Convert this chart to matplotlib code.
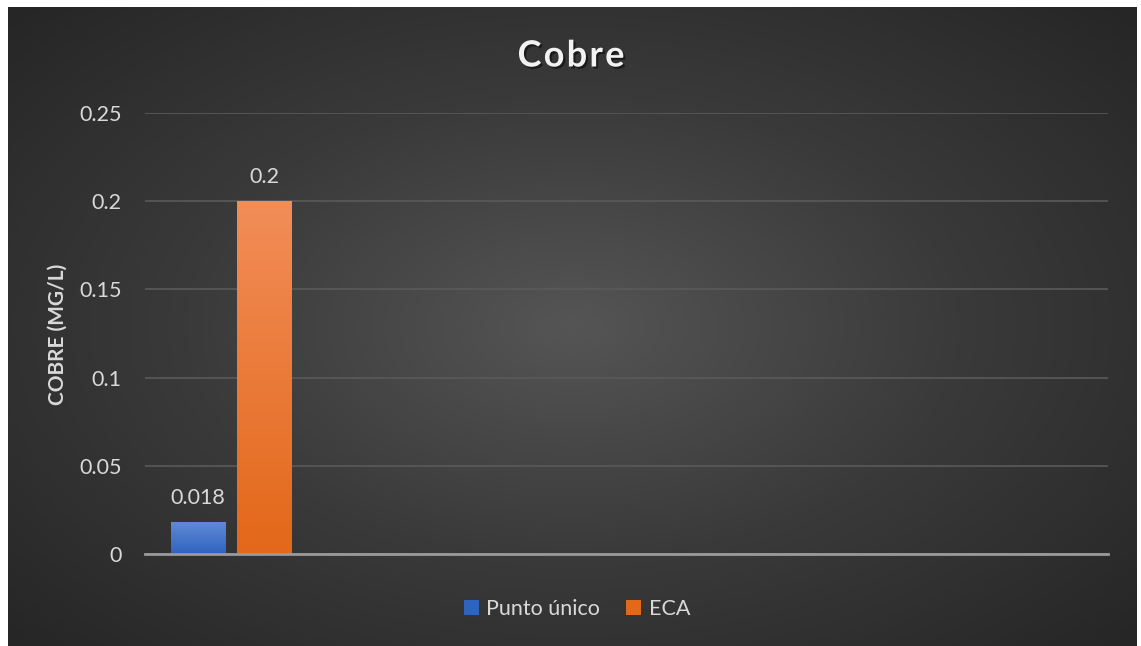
import numpy as np
import matplotlib
matplotlib.use("Agg")
import matplotlib.pyplot as plt
import matplotlib.patheffects as pe
from matplotlib.colors import LinearSegmentedColormap
from matplotlib.patches import Patch

# data
series = ["Punto único", "ECA"]
values = [0.018, 0.2]
y_ticks = [0, 0.05, 0.1, 0.15, 0.2, 0.25]
y_tick_labels = ["0", "0.05", "0.1", "0.15", "0.2", "0.25"]
title = "Cobre"
y_label = "COBRE (MG/L)"

# top / bottom colours for the bar gradients
bar_colors = [("#6189d6", "#2f63c0"), ("#f28d58", "#e3681a")]

plt.rcParams["font.family"] = ["Lato", "DejaVu Sans"]

W, H = 1141, 646
fig = plt.figure(figsize=(W / 100, H / 100), dpi=100)
fig.patch.set_facecolor("white")

# dark radial gradient background
bg = fig.add_axes([8 / W, 0, (1137 - 8) / W, (H - 7) / H])
bg.set_axis_off()
yy, xx = np.mgrid[-1:1:300j, -1:1:500j]
r = np.sqrt((xx * 0.95) ** 2 + (yy * 0.9) ** 2)
bg_cmap = LinearSegmentedColormap.from_list("bg", ["#555555", "#3a3a3a", "#262626"])
bg.imshow(r, cmap=bg_cmap, aspect="auto", extent=[0, 1, 0, 1], vmin=0, vmax=1.3)

# plot area
left, right, bottom, top = 145, 1108, 554, 113
ax = fig.add_axes([left / W, (H - bottom) / H, (right - left) / W, (bottom - top) / H])
ax.patch.set_alpha(0)

bar_w = 0.4
offsets = [-0.244, 0.244]
for i, (name, v) in enumerate(zip(series, values)):
    x = offsets[i]
    bars = ax.bar(x, v, width=bar_w, color=bar_colors[i][1], zorder=3, linewidth=0)
    bar = bars[0]
    grad = np.linspace(1, 0, 100).reshape(-1, 1)
    cm = LinearSegmentedColormap.from_list("b%d" % i, [bar_colors[i][1], bar_colors[i][0]])
    im = ax.imshow(grad, cmap=cm, aspect="auto", zorder=4,
                   extent=[x - bar_w / 2, x + bar_w / 2, 0, v], vmin=0, vmax=1)
    im.set_clip_path(bar)
    bar.set_path_effects([pe.SimplePatchShadow(offset=(0, 0), alpha=0.35, shadow_rgbFace="black"),
                          pe.Normal()])
    ax.text(x, v + 0.008, f"{v:g}", ha="center", va="bottom", fontsize=15.5,
            color="#d9d9d9", zorder=5)

px_per_unit = 54.5 / bar_w
center_px = 231.25
ax.set_xlim(-(center_px - left) / px_per_unit, (right - center_px) / px_per_unit)
ax.set_ylim(0, 0.25)

ax.set_yticks(y_ticks)
ax.set_yticklabels(y_tick_labels, fontsize=15.5, color="#d9d9d9")
ax.set_xticks([])
ax.tick_params(axis="y", length=0, pad=17)
ax.grid(axis="y", color="#5a5a5a", linewidth=1.2, zorder=0)
for s in ["top", "right", "left"]:
    ax.spines[s].set_visible(False)
ax.spines["bottom"].set_color("#9a9a9a")
ax.spines["bottom"].set_linewidth(2)
ax.spines["bottom"].set_zorder(6)

fig.text(58 / W, 1 - 334 / H, y_label, rotation=90, ha="center", va="center",
         fontsize=15, fontweight="bold", color="#d9d9d9")

fig.text(571 / W, 1 - 56 / H, "\u200a".join(title), ha="center", va="center", fontsize=26,
         fontweight="bold", color="#f2f2f2",
         path_effects=[pe.withSimplePatchShadow(offset=(1.5, -1.5), alpha=0.5,
                                                shadow_rgbFace="black")])

handles = [Patch(facecolor=c[1], edgecolor="none") for c in bar_colors]
leg = fig.legend(handles, series, loc="center", bbox_to_anchor=(577 / W, 1 - 609 / H),
                 ncol=2, frameon=False, fontsize=15.5, labelcolor="#d9d9d9",
                 handlelength=0.7, handleheight=0.7, handletextpad=0.35,
                 columnspacing=1.2)

fig.savefig("out.png", dpi=100, facecolor=fig.get_facecolor())
